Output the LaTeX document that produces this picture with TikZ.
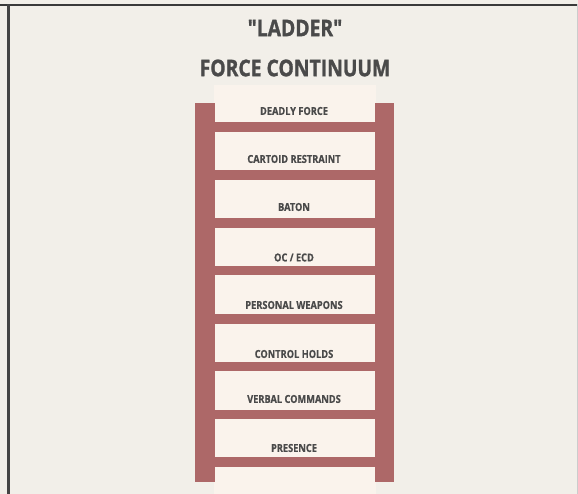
\documentclass[tikz,border=0pt]{standalone}
\usepackage{fontspec}
\setmainfont{Open Sans}
\newfontfamily\titlefont[FakeStretch=0.84,FakeBold=1.2]{Open Sans Bold}
\newfontfamily\labelfont[FakeStretch=0.84,FakeBold=0.6]{Open Sans Bold}
\definecolor{bgc}{HTML}{F2EFE9}
\definecolor{creamc}{HTML}{FAF3EC}
\definecolor{railc}{HTML}{AD6868}
\definecolor{txtc}{HTML}{4A4A4A}
\definecolor{framec}{HTML}{3A3A3A}
\tikzset{
  rail/.style={fill=railc,draw=none},
  rung/.style={fill=railc,draw=none},
  title/.style={text=txtc,font=\titlefont\fontsize{23}{24}\selectfont,inner sep=0pt},
  lbl/.style={text=txtc,font=\labelfont\fontsize{11}{12}\selectfont,inner sep=0pt},
}
\begin{document}
\begin{tikzpicture}[x=1pt,y=-1pt]
\useasboundingbox (0,0) rectangle (578,494);
\fill[bgc] (0,0) rectangle (578,494);
% frame
\fill[framec] (0,3.6) rectangle (578,5.8);
\fill[framec!95] (6.6,3.6) rectangle (9.6,494);
\fill[gray!40] (576.6,3.6) rectangle (578,494);
% cream panel
\fill[creamc] (214,85) rectangle (376,494);
% rails
\fill[rail] (195,103) rectangle (215,482);
\fill[rail] (375,103) rectangle (394,482);
% rungs
\foreach \y in {127,175,223,270.5,319,366.5,414.5,462}
  \fill[rung] (215,\y-4.7) rectangle (375,\y+4.7);
% titles
\node[title] (t1) at (295,28) {"LADDER"};
\node[title] (t2) at (295,68) {FORCE CONTINUUM};
% labels
\node[lbl] (l1) at (294,111) {DEADLY FORCE};
\node[lbl] (l2) at (294,159) {CARTOID RESTRAINT};
\node[lbl] (l3) at (294,207) {BATON};
\node[lbl] (l4) at (294,257.5) {OC / ECD};
\node[lbl] (l5) at (294,305) {PERSONAL WEAPONS};
\node[lbl] (l6) at (294,354) {CONTROL HOLDS};
\node[lbl] (l7) at (294,399) {VERBAL COMMANDS};
\node[lbl] (l8) at (294,448) {PRESENCE};
\end{tikzpicture}
\end{document}
